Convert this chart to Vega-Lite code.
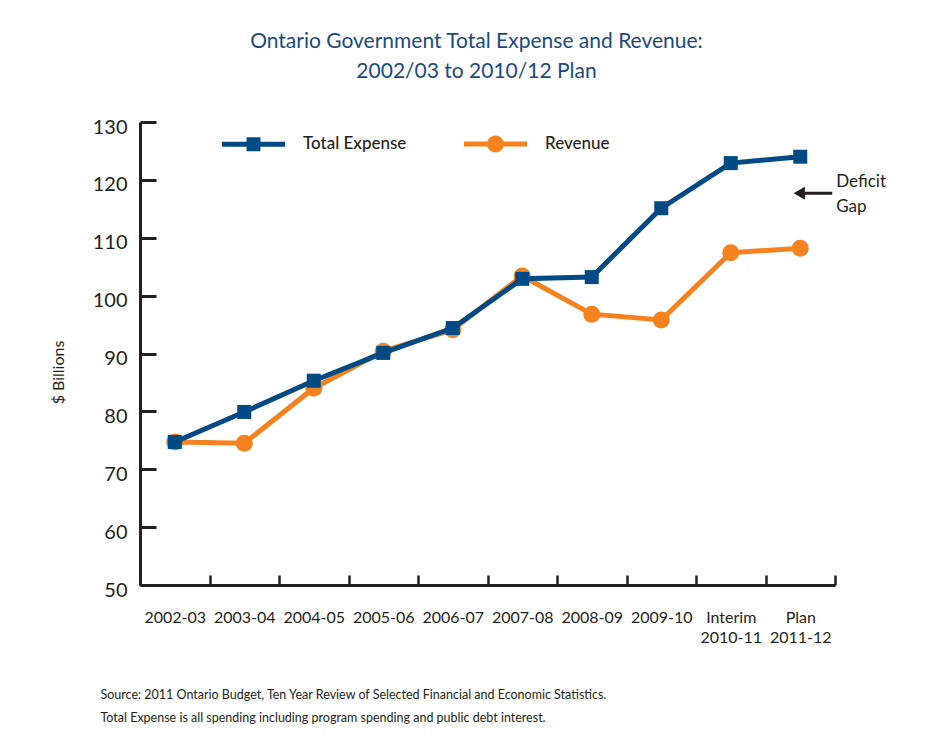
{
  "$schema": "https://vega.github.io/schema/vega-lite/v6.json",
  "width": 695,
  "height": 463,
  "autosize": "none",
  "padding": {"left": 140, "top": 122, "right": 102, "bottom": 165},
  "background": "white",
  "config": {"font": "Lato", "view": {"stroke": null}},
  "title": {
    "text": ["Ontario Government Total Expense and Revenue:", "2002/03 to 2010/12 Plan"],
    "fontSize": 21,
    "fontWeight": "normal",
    "color": "#1b4a7f",
    "lineHeight": 30,
    "offset": 30,
    "anchor": "middle",
    "dx": -11
  },
  "datasets": {
    "series": [
      {"cat": "2002-03", "series": "Total Expense", "value": 74.7},
      {"cat": "2003-04", "series": "Total Expense", "value": 79.9},
      {"cat": "2004-05", "series": "Total Expense", "value": 85.3},
      {"cat": "2005-06", "series": "Total Expense", "value": 90.1},
      {"cat": "2006-07", "series": "Total Expense", "value": 94.4},
      {"cat": "2007-08", "series": "Total Expense", "value": 102.9},
      {"cat": "2008-09", "series": "Total Expense", "value": 103.2},
      {"cat": "2009-10", "series": "Total Expense", "value": 115.1},
      {"cat": "Interim|2010-11", "series": "Total Expense", "value": 122.9},
      {"cat": "Plan|2011-12", "series": "Total Expense", "value": 124.0},
      {"cat": "2002-03", "series": "Revenue", "value": 74.7},
      {"cat": "2003-04", "series": "Revenue", "value": 74.5},
      {"cat": "2004-05", "series": "Revenue", "value": 84.0},
      {"cat": "2005-06", "series": "Revenue", "value": 90.4},
      {"cat": "2006-07", "series": "Revenue", "value": 94.1},
      {"cat": "2007-08", "series": "Revenue", "value": 103.4},
      {"cat": "2008-09", "series": "Revenue", "value": 96.8},
      {"cat": "2009-10", "series": "Revenue", "value": 95.8},
      {"cat": "Interim|2010-11", "series": "Revenue", "value": 107.4},
      {"cat": "Plan|2011-12", "series": "Revenue", "value": 108.2}
    ],
    "note": [{"cat": "Plan|2011-12", "value": 117.7, "label": "Deficit Gap"}]
  },
  "data": {"name": "series"},
  "encoding": {
    "x": {
      "field": "cat",
      "type": "nominal",
      "sort": null,
      "scale": {"type": "band", "paddingInner": 0, "paddingOuter": 0},
      "axis": {
        "tickBand": "extent",
        "tickSize": -10,
        "tickWidth": 2.5,
        "tickColor": "#231f20",
        "domainWidth": 3,
        "domainColor": "#231f20",
        "labelAngle": 0,
        "labelFontSize": 16,
        "labelColor": "#231f20",
        "labelPadding": 34,
        "labelBaseline": "top",
        "labelLineHeight": 20,
        "labelExpr": "split(datum.label, '|')",
        "title": [
          "Source: 2011 Ontario Budget, Ten Year Review of Selected Financial and Economic Statistics.",
          "Total Expense is all spending including program spending and public debt interest."
        ],
        "titleFontSize": 12.5,
        "titleFontWeight": "normal",
        "titleColor": "#231f20",
        "titleAnchor": "start",
        "titleAlign": "left",
        "titleBaseline": "top",
        "titleX": -40,
        "titleY": 103,
        "titleLineHeight": 23
      }
    },
    "y": {
      "field": "value",
      "type": "quantitative",
      "scale": {"domain": [50, 130], "nice": false, "zero": false},
      "axis": {
        "values": [50, 60, 70, 80, 90, 100, 110, 120, 130],
        "grid": false,
        "tickSize": -16,
        "tickWidth": 3,
        "tickColor": "#231f20",
        "domainWidth": 3,
        "domainColor": "#231f20",
        "labelFontSize": 20,
        "labelColor": "#231f20",
        "labelPadding": 29,
        "labelOffset": 5,
        "title": "$ Billions",
        "titleFontSize": 16,
        "titleFontWeight": "normal",
        "titleColor": "#231f20",
        "titleAngle": -90,
        "titleX": -74,
        "titleY": 250
      }
    }
  },
  "layer": [
    {
      "transform": [{"filter": "datum.series === 'Revenue'"}],
      "mark": {"type": "line", "strokeWidth": 5},
      "encoding": {
        "color": {
          "field": "series",
          "type": "nominal",
          "scale": {"domain": ["Total Expense", "Revenue"], "range": ["#004a85", "#f5821f"]},
          "legend": {
            "orient": "none",
            "legendX": 82,
            "legendY": -10,
            "direction": "horizontal",
            "title": null,
            "symbolSize": 3969,
            "labelFontSize": 17,
            "labelFontWeight": 500,
            "labelColor": "#231f20",
            "labelOffset": 18,
            "columnPadding": 57,
            "padding": 0,
            "encode": {
              "symbols": {
                "update": {
                  "shape": {"signal": "datum.value === 'Revenue' ? 'M-1,-0.08H1V0.08H-1Z M0.27,0A0.27,0.27 0 1,1 -0.27,0A0.27,0.27 0 1,1 0.27,0Z' : 'M-1,-0.08H1V0.08H-1Z M-0.22,-0.22H0.22V0.22H-0.22Z'"},
                  "fill": {"signal": "datum.value === 'Revenue' ? '#f5821f' : '#004a85'"},
                  "stroke": {"value": "transparent"},
                  "strokeWidth": {"value": 0},
                  "opacity": {"value": 1}
                }
              }
            }
          }
        }
      }
    },
    {
      "transform": [{"filter": "datum.series === 'Revenue'"}],
      "mark": {"type": "point", "shape": "circle", "filled": true, "opacity": 1, "size": 289},
      "encoding": {
        "color": {"field": "series", "type": "nominal", "scale": {"domain": ["Total Expense", "Revenue"], "range": ["#004a85", "#f5821f"]}}
      }
    },
    {
      "transform": [{"filter": "datum.series === 'Total Expense'"}],
      "mark": {"type": "line", "strokeWidth": 5},
      "encoding": {
        "color": {"field": "series", "type": "nominal", "scale": {"domain": ["Total Expense", "Revenue"], "range": ["#004a85", "#f5821f"]}}
      }
    },
    {
      "transform": [{"filter": "datum.series === 'Total Expense'"}],
      "mark": {"type": "point", "shape": "square", "filled": true, "opacity": 1, "size": 196},
      "encoding": {
        "color": {"field": "series", "type": "nominal", "scale": {"domain": ["Total Expense", "Revenue"], "range": ["#004a85", "#f5821f"]}}
      }
    },
    {
      "data": {"name": "note"},
      "mark": {"type": "rule", "color": "#231f20", "strokeWidth": 3, "xOffset": -2, "x2Offset": 32, "clip": false},
      "encoding": {"x2": {"field": "cat"}}
    },
    {
      "data": {"name": "note"},
      "mark": {"type": "point", "shape": "triangle-left", "filled": true, "color": "#231f20", "opacity": 1, "size": 170, "xOffset": -1, "clip": false},
      "encoding": {}
    },
    {
      "data": {"name": "note"},
      "mark": {"type": "text", "text": ["Deficit", "Gap"], "align": "left", "baseline": "middle", "dx": 36, "dy": -11, "fontSize": 17, "lineHeight": 25, "color": "#231f20", "clip": false},
      "encoding": {}
    }
  ]
}
